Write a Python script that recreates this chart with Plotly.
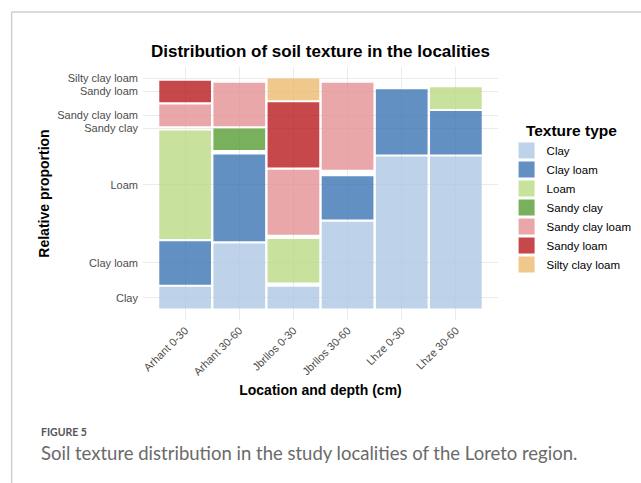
import plotly.graph_objects as go

# ---- data ----
locations = ["Arhant 0-30", "Arhant 30-60", "Jbrllos 0-30", "Jbrllos 30-60", "Lhze 0-30", "Lhze 30-60"]
textures = ["Clay", "Clay loam", "Loam", "Sandy clay", "Sandy clay loam", "Sandy loam", "Silty clay loam"]
clay = [0.1, 0.3, 0.1, 0.4, 0.7, 0.7]
clay_loam = [0.2, 0.4, 0.0, 0.2, 0.3, 0.2]
loam = [0.5, 0.0, 0.2, 0.0, 0.0, 0.1]
sandy_clay = [0.0, 0.1, 0.0, 0.0, 0.0, 0.0]
sandy_clay_loam = [0.1, 0.2, 0.3, 0.4, 0.0, 0.0]
sandy_loam = [0.1, 0.0, 0.3, 0.0, 0.0, 0.0]
silty_clay_loam = [0.0, 0.0, 0.1, 0.0, 0.0, 0.0]
series = [clay, clay_loam, loam, sandy_clay, sandy_clay_loam, sandy_loam, silty_clay_loam]

# ---- style ----
colors = ["rgba(174,200,228,0.8)", "rgba(60,116,180,0.8)", "rgba(186,219,134,0.8)",
          "rgba(86,156,50,0.8)", "rgba(228,145,148,0.8)", "rgba(185,26,29,0.8)",
          "rgba(238,186,110,0.8)"]
GAP = 0.01
FONT = "Liberation Sans, Arial, sans-serif"
W, H = 641, 483
L, R, T, B = 143, 142.6, 66.6, 163.2
PW, PH = W - L - R, H - T - B


def px_x(px):
    return (px - L) / PW


def px_y(py):
    return (H - B - py) / PH


xpos = list(range(len(locations)))

# mosaic bases: cumulative proportion + spacing per category
bases = []
for j in range(len(locations)):
    acc = 0.0
    col = []
    for i, s in enumerate(series):
        col.append(acc + i * GAP)
        acc += s[j]
    bases.append(col)

fig = go.Figure()
for i, (name, s) in enumerate(zip(textures, series)):
    fig.add_trace(go.Bar(
        x=xpos, y=s, base=[bases[j][i] for j in range(len(locations))],
        width=0.955, marker=dict(color=colors[i], line=dict(width=0)),
        name=name, showlegend=False, hoverinfo="name+y"))
for i, name in enumerate(textures):
    fig.add_trace(go.Scatter(
        x=[None], y=[None], mode="markers", name=name,
        marker=dict(symbol="square", size=16, color=colors[i])))

# y tick positions from the first column
ytick = [bases[0][i] + series[i][0] / 2 for i in range(len(textures))]

fig.update_layout(
    width=W, height=H, autosize=False,
    margin=dict(l=L, r=R, t=T, b=B, autoexpand=False),
    paper_bgcolor="white", plot_bgcolor="white",
    font=dict(family=FONT, color="#4d4d4d", size=11),
    barmode="overlay",
    title=dict(text="<b>Distribution of soil texture in the localities</b>",
               font=dict(size=17, color="black", family=FONT),
               x=0.5, xref="paper", xanchor="center",
               y=1 - 51.5 / H, yref="container", yanchor="middle"),
    xaxis=dict(range=[-0.778, len(locations) - 1 + 0.778], tickvals=xpos, ticktext=locations,
               tickangle=-45, showgrid=True, gridcolor="#ebebeb", gridwidth=1,
               zeroline=False, showline=False, ticks="", ticklabelstandoff=1,
               tickfont=dict(size=11, color="#4d4d4d"),
               title=dict(text="<b>Location and depth (cm)</b>", font=dict(size=14, color="black"),
                          standoff=8),
               automargin=False),
    yaxis=dict(range=[-0.053, 1.113], tickvals=ytick, ticktext=textures,
               showgrid=True, gridcolor="#ebebeb", gridwidth=1, zeroline=False, showline=False,
               ticks="", ticklabelstandoff=4, tickfont=dict(size=11, color="#4d4d4d"),
               title=dict(text="<b>Relative proportion</b>", font=dict(size=14, color="black"),
                          standoff=4),
               automargin=False),
    legend=dict(x=px_x(507), y=px_y(115.5), xanchor="left", yanchor="top",
                title=dict(text="<b>Texture type</b>", font=dict(size=15.5, color="black"),
                           side="top center"),
                font=dict(size=11.5, color="black"), traceorder="normal",
                bgcolor="rgba(0,0,0,0)", itemsizing="trace"),
    shapes=[
        dict(type="line", xref="paper", yref="paper", x0=px_x(11.5), x1=px_x(W + 2),
             y0=px_y(11.5), y1=px_y(11.5), line=dict(color="#cfcfcf", width=1.5)),
        dict(type="line", xref="paper", yref="paper", x0=px_x(11.5), x1=px_x(11.5),
             y0=px_y(11.5), y1=px_y(H + 2), line=dict(color="#cfcfcf", width=1.5)),
    ],
    annotations=[
        dict(text="<b>FIGURE 5</b>", xref="paper", yref="paper", x=px_x(39), y=px_y(432),
             xanchor="left", yanchor="middle", showarrow=False,
             font=dict(family="Lato, sans-serif", size=10.5, color="#555555")),
        dict(text="Soil texture distribution in the study localities of the Loreto region.",
             xref="paper", yref="paper", x=px_x(39), y=px_y(453), xanchor="left",
             yanchor="middle", showarrow=False,
             font=dict(family="Lato, sans-serif", size=18.5, color="#6a6a6a")),
    ],
)

fig.write_html("out.html", config={"displayModeBar": False},
               post_script="document.body.style.margin='0px';")
